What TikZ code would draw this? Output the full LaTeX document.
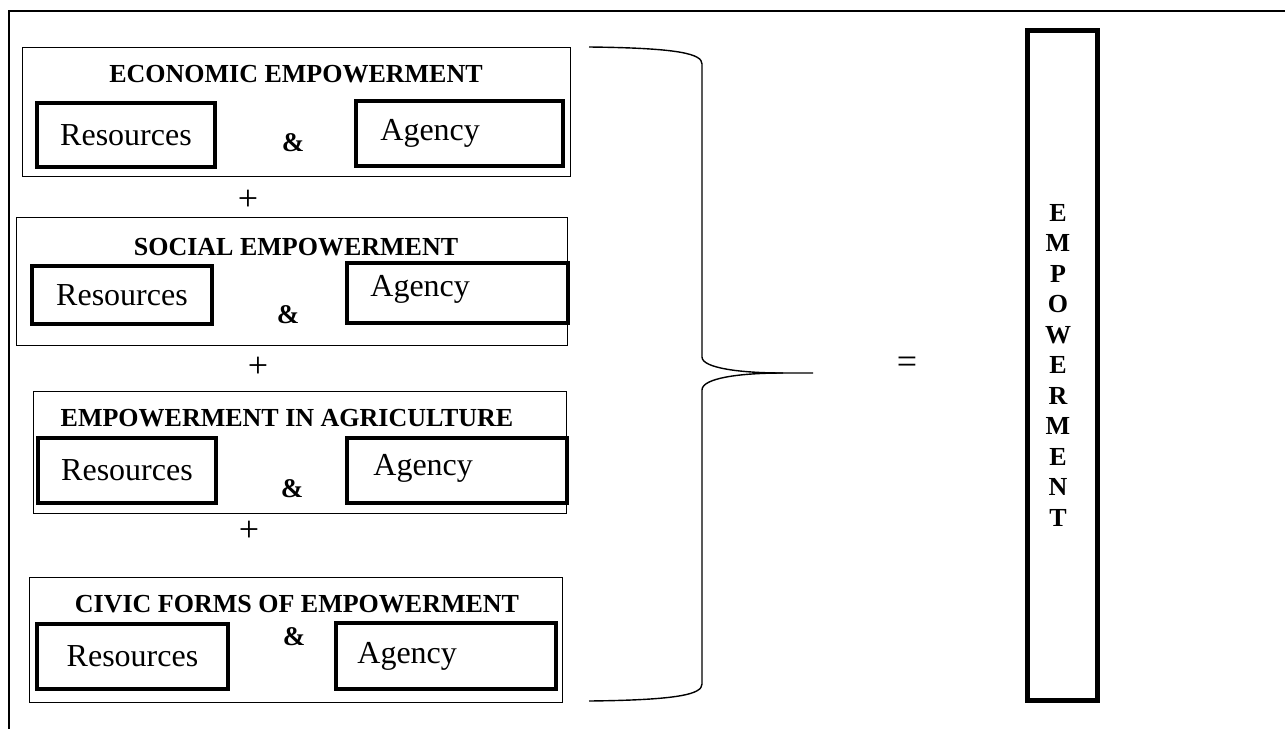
\documentclass[tikz,border=0pt]{standalone}
\usepackage{fontspec}
\setmainfont{Liberation Serif}
\begin{document}
\begin{tikzpicture}[x=0.5pt,y=-0.5pt,
  sz/.style 2 args={minimum width=#1*0.5pt,minimum height=#2*0.5pt},
  group/.style={draw,line width=0.7pt,inner sep=0pt,anchor=north west},
  part/.style={draw,line width=2pt,inner sep=0pt,anchor=north west},
  heading/.style={font=\bfseries\fontsize{13}{15}\selectfont,inner sep=0pt},
  word/.style={font=\fontsize{16}{19}\selectfont,inner sep=0pt},
  amp/.style={font=\bfseries\fontsize{13.5}{15}\selectfont,inner sep=0pt},
  sign/.style={font=\fontsize{18}{21}\selectfont,inner sep=0pt},
  ]
\useasboundingbox (0,0) rectangle (1285,729);
\draw[line width=1.4pt] (1285,11) -- (9,11) -- (9,729);

% economic
\node[group,sz={548}{129}] (eco) at (22,47) {};
\node[heading] (ecot) at (296,74) {ECONOMIC EMPOWERMENT};
\node[part,sz={178}{64}] (ecor) at (35,101) {};
\node[word] at (ecor.center) {Resources};
\node[part,sz={207}{65}] (ecoa) at (354,99) {};
\node[word,anchor=west,xshift=13pt] at (ecoa.west) {Agency};
\node[amp] (ecoand) at (293,143) {\&};
\node[sign] (plus1) at (248,200) {+};

% social
\node[group,sz={551}{128}] (soc) at (16,217) {};
\node[heading] (soct) at (296,247) {SOCIAL EMPOWERMENT};
\node[part,sz={180}{58}] (socr) at (30,264) {};
\node[word] at (socr.center) {Resources};
\node[part,sz={221}{60}] (soca) at (345,261) {};
\node[word,anchor=west,xshift=12.5pt,yshift=2pt] at (soca.west) {Agency};
\node[amp] (socand) at (288,315) {\&};
\node[sign] (plus2) at (258,367) {+};

% agriculture
\node[group,sz={533}{122}] (agr) at (33,391) {};
\node[heading] (agrt) at (287,418) {EMPOWERMENT IN AGRICULTURE};
\node[part,sz={178}{65}] (agrr) at (36,436) {};
\node[word] at (agrr.center) {Resources};
\node[part,sz={220}{65}] (agra) at (345,436) {};
\node[word,anchor=west,xshift=14pt,yshift=1pt] at (agra.west) {Agency};
\node[amp] (agrand) at (292,489) {\&};
\node[sign] (plus3) at (249,531) {+};

% civic
\node[group,sz={533}{125}] (civ) at (29,577) {};
\node[heading] (civt) at (297,604) {CIVIC FORMS OF EMPOWERMENT};
\node[part,sz={191}{65}] (civr) at (35,622) {};
\node[word] at (civr.center) {Resources};
\node[part,sz={220}{66}] (civa) at (334,621) {};
\node[word,anchor=west,xshift=11.5pt] at (civa.west) {Agency};
\node[amp] (civand) at (294,637) {\&};

% brace
\draw[line width=0.7pt] (589,47) .. controls (680,48) and (702,54) .. (702,64)
  -- (702,357) .. controls (702,368) and (740,373) .. (783,373) -- (813,373);
\draw[line width=0.7pt] (783,373) .. controls (740,373) and (702,378) .. (702,390)
  -- (702,684) .. controls (702,694) and (680,700) .. (589,701);

\node[sign] (eq) at (907,365) {=};

\node[draw,line width=2.5pt,inner sep=0pt,anchor=north west,sz={70}{670}] (total) at (1024.5,27.5) {};
\node[font=\bfseries\fontsize{13}{15.25}\selectfont,align=center,inner sep=0pt] (totalt) at (1058,365)
  {E\\M\\P\\O\\W\\E\\R\\M\\E\\N\\T};
\end{tikzpicture}
\end{document}
